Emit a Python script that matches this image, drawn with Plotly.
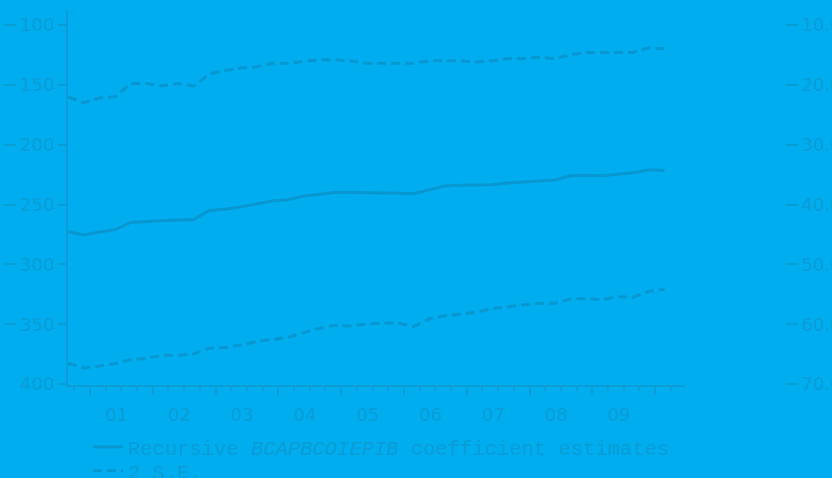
import plotly.graph_objects as go

# quarterly observations, index 0 = first quarter shown
coef = [272.7, 275.5, 273.0, 271.0, 265.0, 264.0, 263.5, 263.0, 262.5, 255.0,
        254.0, 252.0, 249.5, 247.0, 246.0, 243.0, 241.5, 240.0, 240.0, 240.0,
        240.0, 240.5, 241.0, 238.0, 234.5, 234.0, 234.0, 233.5, 232.0, 231.0,
        230.0, 229.5, 226.0, 225.5, 226.0, 224.5, 223.5, 221.0, 221.5]
upper = [160.0, 165.0, 161.0, 160.0, 149.0, 149.0, 151.0, 149.0, 151.0, 141.0,
         138.0, 136.0, 135.0, 132.0, 132.0, 130.7, 129.0, 129.0, 130.0, 132.0,
         132.0, 132.0, 132.0, 130.0, 130.0, 130.0, 131.0, 130.0, 128.0, 128.0,
         127.0, 128.0, 125.0, 123.0, 123.0, 123.0, 123.0, 119.0, 120.0]
lower = [382.6, 386.5, 385.0, 383.0, 379.5, 378.5, 376.0, 376.0, 375.0, 370.0,
         369.5, 367.5, 364.5, 362.5, 361.0, 357.0, 353.5, 351.0, 351.5, 350.0,
         349.0, 349.0, 352.0, 345.5, 343.0, 341.5, 340.0, 337.0, 335.5, 334.5,
         332.5, 332.5, 329.0, 328.5, 329.5, 327.0, 327.5, 322.5, 321.0]
year_labels = ["01", "02", "03", "04", "05", "06", "07", "08", "09"]
left_ticks = [100, 150, 200, 250, 300, 350, 400]
right_ticks = [10, 20, 30, 40, 50, 60, 70]
right_text = ["10.0", "20.0", "30.0", "40.0", "50.0", "60.0", "70.0"]

BG = "#00AEEF"
INK = "#0A9DD6"
LINE = "#0897D0"
W, H = 832, 478

obs = list(range(len(coef)))
xr = [0, 39.3]
yr = [400.8, 87.5]
yr2 = [(yr[0] - 50) / 5, (yr[1] - 50) / 5]

fig = go.Figure()
fig.add_trace(go.Scatter(x=obs, y=coef, mode="lines",
                         line=dict(color=LINE, width=3),
                         name="Recursive <i>BCAPBCOIEPIB</i> coefficient estimates",
                         legend="legend"))
fig.add_trace(go.Scatter(x=obs, y=upper, mode="lines",
                         line=dict(color=LINE, width=3, dash="9px,5px"),
                         name="2 S.E.", legend="legend2"))
fig.add_trace(go.Scatter(x=obs, y=lower, mode="lines",
                         line=dict(color=LINE, width=3, dash="9px,5px"),
                         name="2 S.E.", showlegend=False))
# helper traces so the overlay axes are drawn
fig.add_trace(go.Scatter(x=[None], y=[None], xaxis="x2", yaxis="y", showlegend=False, hoverinfo="skip"))
fig.add_trace(go.Scatter(x=[None], y=[None], xaxis="x", yaxis="y2", showlegend=False, hoverinfo="skip"))
fig.add_trace(go.Scatter(x=[None], y=[None], xaxis="x", yaxis="y3", showlegend=False, hoverinfo="skip"))

ml, mr, mt, mb = 3, 0, 10, 93
pw = W - ml - mr
ph = H - mt - mb

def px(x):
    return (x - ml) / pw

def py(y):
    return (H - mb - y) / ph

major = [1.4 + 4 * j for j in range(10)]
label_pos = [3.1 + 4 * j for j in range(len(year_labels))]

legend_font = dict(family="Liberation Mono", size=20.5, color=INK)

fig.update_layout(
    width=W, height=H,
    margin=dict(l=ml, r=mr, t=mt, b=mb, autoexpand=False),
    paper_bgcolor=BG, plot_bgcolor=BG,
    font=dict(family="DejaVu Sans", size=18, color=INK),
    xaxis=dict(domain=[px(68), px(685)], range=xr, showgrid=False, zeroline=False,
               showline=True, linecolor=INK, linewidth=2,
               tickmode="array", tickvals=major, ticks="outside", ticklen=8,
               tickwidth=2, tickcolor=INK, showticklabels=False,
               minor=dict(tickmode="linear", tick0=0.4, dtick=1, ticks="outside",
                          ticklen=4, tickwidth=2, tickcolor=INK, showgrid=False)),
    xaxis2=dict(overlaying="x", anchor="y", side="bottom", range=xr,
                domain=[px(68), px(685)], showgrid=False, zeroline=False,
                showline=False, tickmode="array", tickvals=label_pos,
                ticktext=year_labels, ticks="outside", ticklen=13,
                tickcolor="rgba(0,0,0,0)", tickfont=dict(size=18, color=INK)),
    yaxis=dict(range=yr, anchor="x", showgrid=False, zeroline=False, showline=True,
               linecolor=INK, linewidth=2, tickmode="array", tickvals=left_ticks,
               ticks="outside", ticklen=8, tickwidth=2, tickcolor=INK,
               tickfont=dict(size=18, color=INK)),
    yaxis2=dict(range=yr2, overlaying="y", side="right", anchor="free",
                position=px(785), showgrid=False, zeroline=False, showline=False,
                tickmode="array", tickvals=right_ticks, ticktext=right_text,
                ticks="outside", ticklen=12, tickwidth=2, tickcolor=INK,
                tickfont=dict(size=18, color=INK)),
    yaxis3=dict(range=yr, overlaying="y", side="left", anchor="free", position=0,
                showgrid=False, zeroline=False, showline=False,
                tickmode="array", tickvals=left_ticks, ticks="inside", ticklen=12,
                tickwidth=2, tickcolor=INK, showticklabels=False),
    showlegend=True,
    legend=dict(x=px(88), xanchor="left", y=py(427), yanchor="top",
                bgcolor="rgba(0,0,0,0)", font=legend_font, itemwidth=30),
    legend2=dict(x=px(88), xanchor="left", y=py(451), yanchor="top",
                 bgcolor="rgba(0,0,0,0)", font=legend_font, itemwidth=30),
)

fig.write_html("out.html")
